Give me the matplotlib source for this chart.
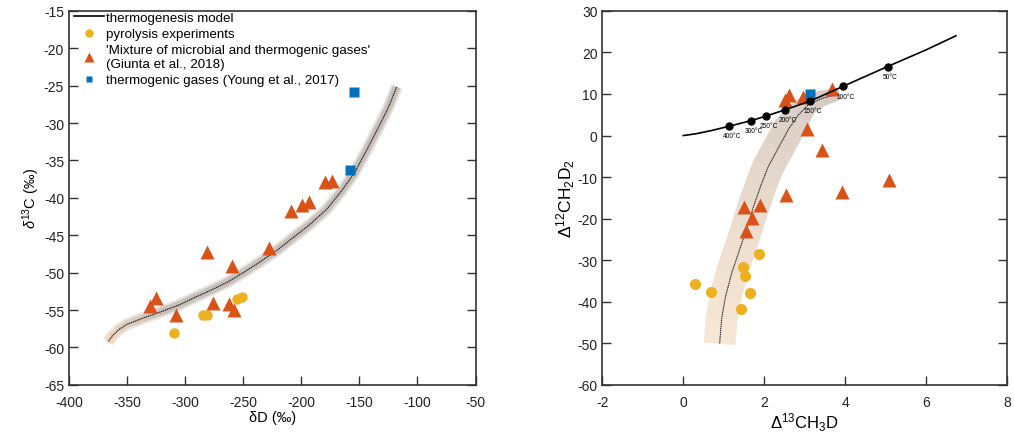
import numpy as np
import matplotlib
matplotlib.use("Agg")
import matplotlib.pyplot as plt
from matplotlib.lines import Line2D
from matplotlib.colors import to_rgb

plt.rcParams['font.family'] = ['Liberation Sans', 'DejaVu Sans']
plt.rcParams['mathtext.fontset'] = 'custom'
plt.rcParams['mathtext.rm'] = 'Liberation Sans'
plt.rcParams['mathtext.it'] = 'Liberation Sans:italic'
plt.rcParams['axes.unicode_minus'] = False

# ---- left panel data: dD vs d13C ----
model_dD = [-366, -363, -357, -350, -335, -322, -305, -293, -280, -264, -250,
            -236, -220, -207, -193, -178, -166, -154, -143, -133, -125, -118]
model_d13C = [-59.2, -58.5, -57.6, -56.9, -56.0, -55.3, -54.3, -53.4, -52.5,
              -51.3, -50.0, -48.6, -46.9, -45.3, -43.6, -41.5, -39.2, -36.6,
              -33.4, -30.4, -27.9, -25.2]

pyro_dD = [-310, -285, -281, -255, -251]
pyro_d13C = [-58.0, -55.7, -55.6, -53.5, -53.3]

mix_dD = [-330, -325, -308, -281, -276, -260, -262, -258, -228, -208.5, -199,
          -193.5, -180, -174]
mix_d13C = [-54.4, -53.4, -55.6, -47.2, -54.0, -49.1, -54.2, -55.0, -46.7,
            -41.7, -41.0, -40.6, -37.9, -37.8]

thermo_dD = [-155, -158.5]
thermo_d13C = [-25.8, -36.3]

# ---- right panel data: D13CH3D vs D12CH2D2 ----
eq_x = [0.0, 0.3, 0.7, 1.14, 1.68, 2.04, 2.52, 3.14, 3.94, 5.05, 6.0, 6.74]
eq_y = [0.0, 0.4, 1.2, 2.25, 3.6, 4.66, 6.2, 8.3, 11.8, 16.6, 20.6, 24.0]

temp_x = [1.14, 1.68, 2.04, 2.52, 3.14, 3.94, 5.05]
temp_y = [2.25, 3.6, 4.66, 6.2, 8.3, 11.8, 16.6]
temp_labels = ['400°C', '300°C', '250°C', '200°C', '150°C', '100°C', '50°C']

band_x = [0.90, 0.95, 1.04, 1.20, 1.41, 1.58, 1.74, 1.92, 2.10, 2.35, 2.60,
          2.85, 3.10, 3.45, 3.85]
band_y = [-50, -44, -39, -33, -27, -22, -17, -12, -7.5, -3, 1.5, 5.0, 7.5,
          9.0, 10.0]

pyro_x = [1.88, 1.47, 1.53, 0.30, 0.68, 1.65, 1.43]
pyro_y = [-28.5, -31.7, -33.7, -35.7, -37.7, -37.9, -41.7]

mix_x = [2.52, 2.62, 2.97, 3.67, 3.05, 3.42, 5.09, 3.93, 2.53, 1.51, 1.90,
         1.70, 1.56]
mix_y = [8.6, 9.7, 9.3, 11.2, 1.5, -3.6, -10.7, -13.5, -14.3, -17.1, -16.8,
         -19.9, -22.9]

thermo_x = [3.14]
thermo_y = [10.0]

YELLOW = '#EDB120'
ORANGE = '#D95319'
BLUE = '#0072BD'


def mix(c1, c2, t):
    a, b = np.array(to_rgb(c1)), np.array(to_rgb(c2))
    return tuple(a + (b - a) * t)


def draw_band(ax, xs, ys, half_px, c_start, c_end, fade):
    pts = ax.transData.transform(np.column_stack([xs, ys]))
    d = np.gradient(pts, axis=0)
    n = np.column_stack([-d[:, 1], d[:, 0]])
    n /= np.linalg.norm(n, axis=1)[:, None]
    left = pts + n * np.asarray(half_px)[:, None]
    right = pts - n * np.asarray(half_px)[:, None]
    inv = ax.transData.inverted()
    for i in range(len(xs) - 1):
        quad = inv.transform(np.array([left[i], left[i + 1], right[i + 1], right[i]]))
        t = min(1.0, i / max(1, fade))
        c = mix(c_start, c_end, t)
        ax.fill(quad[:, 0], quad[:, 1], color=c, lw=0.6, zorder=1)


fig = plt.figure(figsize=(10.14, 4.39), dpi=100)
ax1 = fig.add_axes([0.068, 0.121, 0.401, 0.852])
ax2 = fig.add_axes([0.594, 0.121, 0.399, 0.852])

for ax in (ax1, ax2):
    ax.tick_params(direction='in', top=False, right=True, length=6.5,
                   width=1.0, labelsize=10, color='#333333', labelcolor='#222222')
    ax.tick_params(axis='x', pad=7)
    for s in ax.spines.values():
        s.set_linewidth(1.2)
        s.set_color('#333333')

# left panel
ax1.set_xlim(-400, -50)
ax1.set_ylim(-65, -15)
ax1.set_xticks(np.arange(-400, -49, 50))
ax1.set_yticks(np.arange(-65, -14, 5))

n1 = len(model_dD)
draw_band(ax1, model_dD, model_d13C, [5.5] * n1, '#f3e4d6', '#e8e3df', 5)
draw_band(ax1, model_dD, model_d13C, [3.5] * n1, '#f0dac4', '#c9c1bb', 5)
ax1.plot(model_dD, model_d13C, color='#111111', lw=0.8, ls=(0, (1.2, 0.6)), zorder=2)

ax1.plot(pyro_dD, pyro_d13C, ls='none', marker='o', ms=7.5, color=YELLOW, mec='none', zorder=3)
ax1.plot(mix_dD, mix_d13C, ls='none', marker='^', ms=10, color=ORANGE, mec='none', zorder=3)
ax1.plot(thermo_dD, thermo_d13C, ls='none', marker='s', ms=6.5, color=BLUE, mec='none', zorder=3)

ax1.set_xlabel('δD (‰)', fontsize=10.5, labelpad=1)
ax1.set_ylabel(r'$\delta^{13}$C (‰)', fontsize=10.5, labelpad=1)

handles = [
    Line2D([], [], color='black', lw=1.2),
    Line2D([], [], ls='none', marker='o', ms=6, color=YELLOW, mec='none'),
    Line2D([], [], ls='none', marker='^', ms=7, color=ORANGE, mec='none'),
    Line2D([], [], ls='none', marker='s', ms=5, color=BLUE, mec='none'),
]
labels = ['thermogenesis model', 'pyrolysis experiments',
          "'Mixture of microbial and thermogenic gases'\n(Giunta et al., 2018)",
          'thermogenic gases (Young et al., 2017)']
ax1.legend(handles, labels, loc='upper left', bbox_to_anchor=(0.0, 1.012),
           frameon=False, fontsize=9.6, handlelength=2.2, handletextpad=0.2,
           labelspacing=0.3, borderpad=0.2, borderaxespad=0.2)

# right panel
ax2.set_xlim(-2, 8)
ax2.set_ylim(-60, 30)
ax2.set_xticks(np.arange(-2, 9, 2))
ax2.set_yticks(np.arange(-60, 31, 10))

nb = len(band_x)
hw = np.concatenate([np.full(nb - 4, 15.5), [13, 10, 7.5, 5.5]])
draw_band(ax2, band_x[::-1], band_y[::-1], hw[::-1], '#d5cbc4', '#f7e6d5', nb - 2)
ax2.plot(band_x, band_y, color='#222222', lw=0.8, ls=(0, (1.2, 0.6)), zorder=2)

ax2.plot(eq_x, eq_y, color='black', lw=1.2, zorder=4)
ax2.plot(temp_x, temp_y, ls='none', marker='o', ms=5, color='black', zorder=5)
for tx, ty, lab in zip(temp_x, temp_y, temp_labels):
    ax2.annotate(lab, (tx, ty), xytext=(2, -7), textcoords='offset points',
                 ha='center', va='center', fontsize=4.8, zorder=6)

ax2.plot(pyro_x, pyro_y, ls='none', marker='o', ms=8, color=YELLOW, mec='none', zorder=3)
ax2.plot(mix_x, mix_y, ls='none', marker='^', ms=9.5, color=ORANGE, mec='none', zorder=3)
ax2.plot(thermo_x, thermo_y, ls='none', marker='s', ms=7, color=BLUE, mec='none', zorder=3)

ax2.set_xlabel(r'$\Delta^{13}$CH$_3$D', fontsize=12, labelpad=1)
ax2.set_ylabel(r'$\Delta^{12}$CH$_2$D$_2$', fontsize=12.5, labelpad=0)

fig.savefig('out.png', dpi=100)
